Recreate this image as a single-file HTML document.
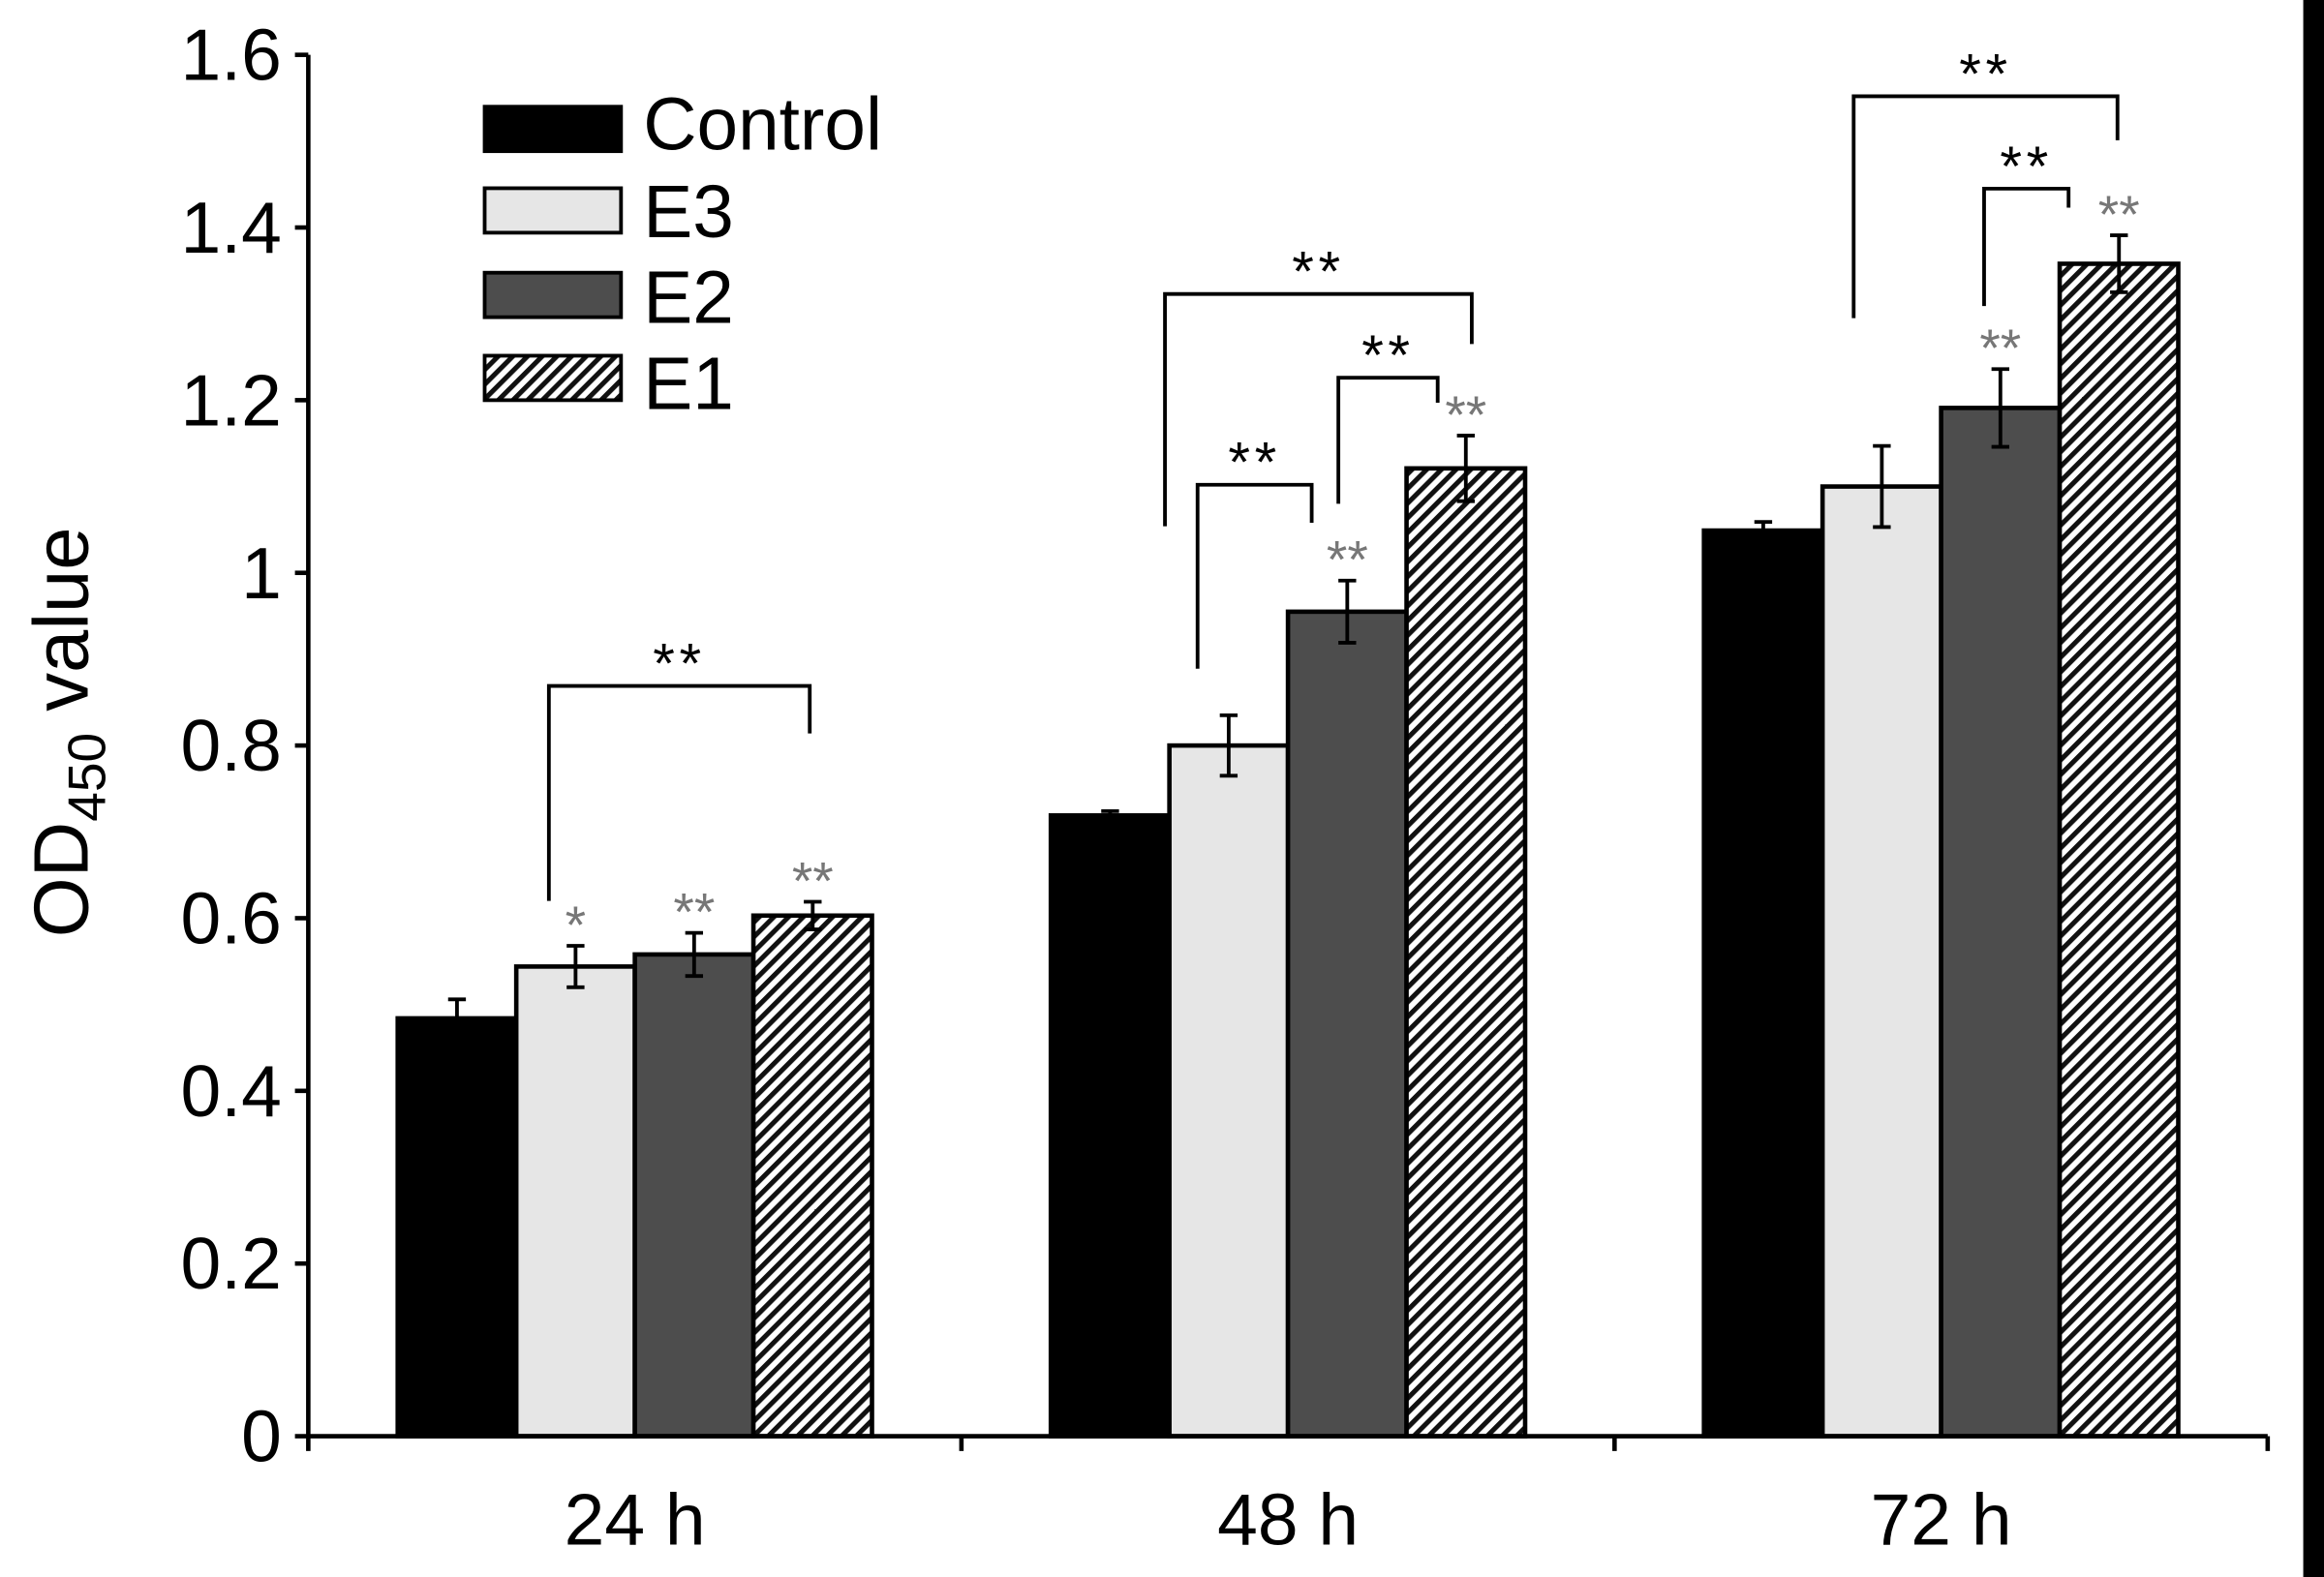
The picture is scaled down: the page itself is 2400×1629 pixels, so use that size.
<!DOCTYPE html>
<html><head><meta charset="utf-8"><style>
html,body{margin:0;padding:0;background:#fff;}
svg{display:block;}
text{font-family:"Liberation Sans",sans-serif;}
</style></head><body>
<svg id="chart" width="2400" height="1629" viewBox="0 0 1568 1064" preserveAspectRatio="none" xmlns="http://www.w3.org/2000/svg">
<defs>
<pattern id="hatch" patternUnits="userSpaceOnUse" width="7" height="7" patternTransform="rotate(45)">
<rect width="7" height="7" fill="#fff"/>
<rect x="0" y="0" width="3.3" height="7" fill="#111"/>
</pattern>
</defs>
<rect x="1554" y="0" width="14" height="1064" fill="#000"/>
<g id="plot"></g>
</svg>
<script>
const categories = ["24 h","48 h","72 h"];
const seriesNames = ["Control","E3","E2","E1"];
const controlVals = [0.484, 0.719, 1.049];
const e3Vals = [0.544, 0.800, 1.100];
const e2Vals = [0.558, 0.955, 1.191];
const e1Vals = [0.603, 1.121, 1.358];
const controlErr = [0.022, 0.005, 0.010];
const e3Err = [0.024, 0.035, 0.047];
const e2Err = [0.025, 0.036, 0.045];
const e1Err = [0.016, 0.038, 0.033];
const yTicks = [0, 0.2, 0.4, 0.6, 0.8, 1.0, 1.2, 1.4, 1.6];
const yTickLabels = ["0","0.2","0.4","0.6","0.8","1","1.2","1.4","1.6"];
// significance brackets: [category, left pos (series units), right pos, level value, left drop value, right drop value]
const brackets = [
  [0, 0.775, 2.975, 0.869, 0.620, 0.814],
  [1, 0.7375, 1.70, 1.102, 0.889, 1.058],
  [1, 1.925, 2.7625, 1.226, 1.080, 1.197],
  [1, 0.4625, 3.05, 1.323, 1.054, 1.265],
  [2, 1.8625, 2.575, 1.445, 1.309, 1.423],
  [2, 0.7625, 2.9875, 1.552, 1.295, 1.501]
];
// gray stars above bars: [category, series, label]
const barStars = [[0,1,"*"],[0,2,"**"],[0,3,"**"],[1,2,"**"],[1,3,"**"],[2,2,"**"],[2,3,"**"]];

const vals = [controlVals, e3Vals, e2Vals, e1Vals];
const errs = [controlErr, e3Err, e2Err, e1Err];
const fills = ["#000", "#e6e6e6", "#4d4d4d", "url(#hatch)"];
const X0 = 208, X1 = 1530, Y0 = 969, YTOP = 37, YMAX = 1.6;
const groupW = (X1 - X0) / categories.length;
const barW = 80;
function y(v){ return Y0 - (v / YMAX) * (Y0 - YTOP); }
function groupCenter(i){ return X0 + groupW * (i + 0.5); }
function barX(c, s){ return groupCenter(c) - 2 * barW + s * barW; }
function barMid(c, s){ return barX(c, s) + barW / 2; }

const NS = "http://www.w3.org/2000/svg";
const g = document.getElementById("plot");
function mk(tag, attrs){ const e = document.createElementNS(NS, tag); for (const k in attrs) e.setAttribute(k, attrs[k]); g.appendChild(e); return e; }

for (let s = 0; s < 4; s++) {
  for (let c = 0; c < categories.length; c++) {
    const v = vals[s][c];
    const r = mk("rect", {x: barX(c, s), y: y(v), width: barW, height: Y0 - y(v), fill: fills[s], stroke: "#000", "stroke-width": 3});
    
    
    const m = barMid(c, s), e = errs[s][c];
    const eb = mk("path", {d: `M${m},${y(v+e)}V${y(v-e)}M${m-6},${y(v+e)}H${m+6}M${m-6},${y(v-e)}H${m+6}`, stroke: "#000", "stroke-width": 2.5, fill: "none"});
    
    
  }
}
const ya = mk("path", {d: `M${X0},${YTOP}V${Y0}`, stroke: "#000", "stroke-width": 3});


const xa = mk("path", {d: `M${X0},${Y0}H${X1}`, stroke: "#000", "stroke-width": 3});


for (let i = 0; i < yTicks.length; i++) {
  const t = mk("path", {d: `M${X0-9},${y(yTicks[i])}H${X0}`, stroke: "#000", "stroke-width": 3});
  
  
  const l = mk("text", {x: X0 - 18, y: y(yTicks[i]) + 17, "text-anchor": "end", "font-size": 49});
  l.textContent = yTickLabels[i];
  
  
}
for (let i = 0; i <= categories.length; i++) {
  const xx = X0 + groupW * i;
  const t = mk("path", {d: `M${xx},${Y0}V${Y0+10}`, stroke: "#000", "stroke-width": 3});
  
  
}
for (let c = 0; c < categories.length; c++) {
  const l = mk("text", {x: groupCenter(c), y: 1042, "text-anchor": "middle", "font-size": 49});
  l.textContent = categories[c];
  
  
}
const yt = mk("text", {x: 0, y: 0, transform: "translate(59,494) rotate(-90)", "text-anchor": "middle", "font-size": 52});
yt.innerHTML = 'OD<tspan font-size="36" dy="12">450</tspan><tspan dy="-12"> value</tspan>';


for (const b of brackets) {
  const xl = barMid(b[0], b[1]), xr = barMid(b[0], b[2]);
  const p = mk("path", {d: `M${xl},${y(b[4])}V${y(b[3])}H${xr}V${y(b[5])}`, stroke: "#000", "stroke-width": 2.5, fill: "none"});
  
  
  const s = mk("text", {x: (xl + xr) / 2, y: y(b[3]) - 2, "text-anchor": "middle", "font-size": 38, "letter-spacing": 3});
  s.textContent = "**";
  
  
}
for (const st of barStars) {
  const c = st[0], s = st[1];
  const top = vals[s][c] + errs[s][c];
  const t = mk("text", {x: barMid(c, s), y: y(top) - 2, "text-anchor": "middle", "font-size": 36, fill: "#777"});
  t.textContent = st[2];
  
  
}
const legY = [72, 127, 184, 240];
const legTextY = [101, 160, 218, 276];
for (let s = 0; s < 4; s++) {
  const r = mk("rect", {x: 327, y: legY[s], width: 92, height: 30, fill: fills[s], stroke: "#000", "stroke-width": 2.5});
  
  
  const t = mk("text", {x: 434, y: legTextY[s], "font-size": 50});
  t.textContent = seriesNames[s];
  
  
}
</script>
</body></html>
